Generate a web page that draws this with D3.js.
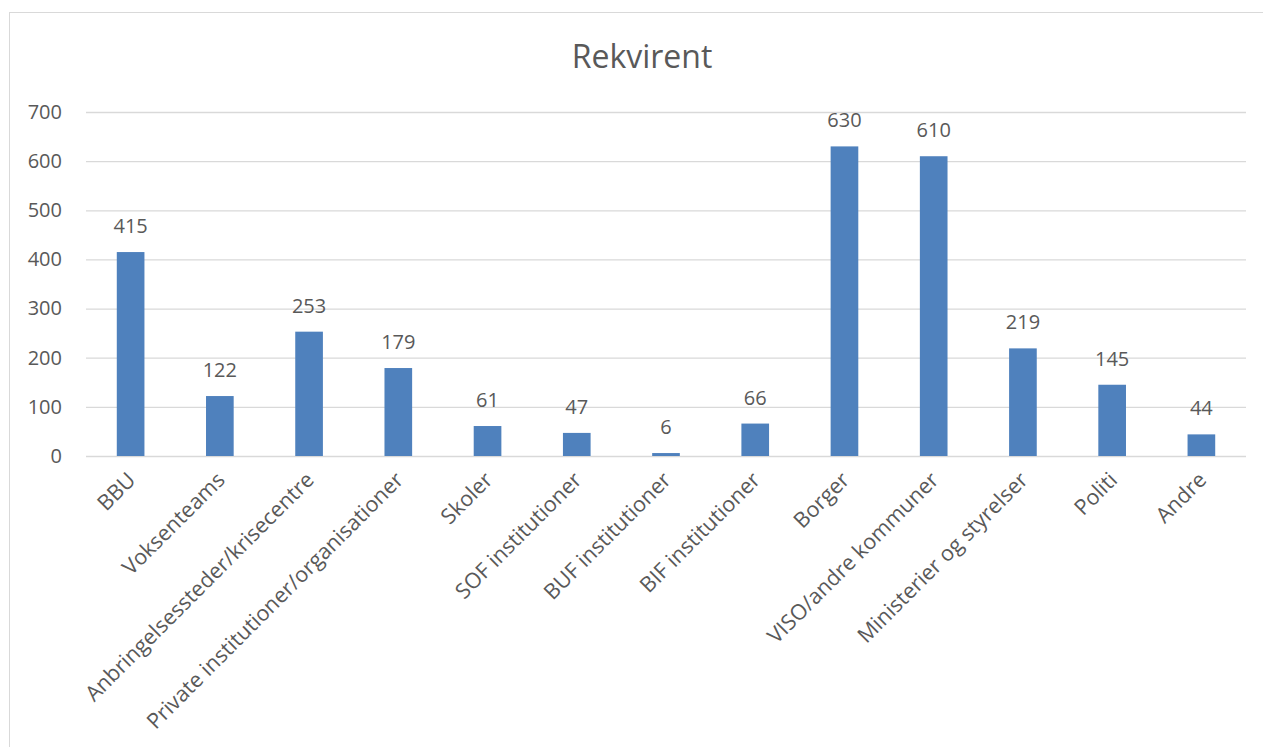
<!DOCTYPE html>
<html>
<head>
<meta charset="utf-8">
<script src="https://cdn.jsdelivr.net/npm/d3@7"></script>
<style>
  body { margin: 0; background: #fff; }
  svg { display: block; }
  text { font-family: "Open Sans", sans-serif; fill: #595959; }
</style>
</head>
<body>
<svg></svg>
<script>
const TITLE = "Rekvirent";
const categories = ["BBU", "Voksenteams", "Anbringelsessteder/krisecentre",
    "Private institutioner/organisationer", "Skoler", "SOF institutioner",
    "BUF institutioner", "BIF institutioner", "Borger", "VISO/andre kommuner",
    "Ministerier og styrelser", "Politi", "Andre"];
const values = [415, 122, 253, 179, 61, 47, 6, 66, 630, 610, 219, 145, 44];
const yTicks = [0, 100, 200, 300, 400, 500, 600, 700];

const width = 1263;
const height = 747;
const margin = {top: 112, right: 17, bottom: 291, left: 86};

const svg = d3.select("svg")
    .attr("width", width)
    .attr("height", height);

// chart frame
svg.append("rect")
    .attr("x", 9.5).attr("y", 12.5)
    .attr("width", width).attr("height", height)
    .attr("fill", "none")
    .attr("stroke", "#d9d9d9");

const x = d3.scaleBand()
    .domain(categories)
    .range([margin.left, width - margin.right])
    .paddingInner(0.69)
    .paddingOuter(0.345);

const y = d3.scaleLinear()
    .domain([0, 700])
    .range([height - margin.bottom, margin.top]);

svg.append("text")
    .attr("x", 642)
    .attr("y", 68)
    .attr("text-anchor", "middle")
    .attr("font-size", 32)
    .text(TITLE);

// gridlines + y labels
svg.append("g")
    .attr("transform", `translate(${margin.left},0)`)
    .call(d3.axisLeft(y)
        .tickValues(yTicks)
        .tickSize(-(width - margin.left - margin.right))
        .tickPadding(24))
    .call(g => g.select(".domain").remove())
    .call(g => g.selectAll("line").attr("stroke", "#d9d9d9").attr("stroke-width", 1.3))
    .call(g => g.selectAll("text").attr("font-size", 20).attr("fill", "#595959"));

svg.append("g")
    .selectAll("rect")
    .data(values)
    .enter().append("rect")
        .attr("x", (d, i) => x(categories[i]))
        .attr("y", d => y(d))
        .attr("width", x.bandwidth())
        .attr("height", d => y(0) - y(d))
        .attr("fill", "#4f81bd");

svg.append("g")
    .selectAll("text")
    .data(values)
    .enter().append("text")
        .attr("x", (d, i) => x(categories[i]) + x.bandwidth() / 2)
        .attr("y", d => y(d) - 19)
        .attr("text-anchor", "middle")
        .attr("font-size", 20)
        .attr("fill", "#404040")
        .text(d => d);

// x labels
svg.append("g")
    .selectAll("text")
    .data(categories)
    .enter().append("text")
        .attr("transform", d => `translate(${x(d) + x.bandwidth() / 2 + 1},${y(0) + 20}) rotate(-45)`)
        .attr("text-anchor", "end")
        .attr("font-size", 21.5)
        .attr("dy", "0.35em")
        .text(d => d);
</script>
</body>
</html>
